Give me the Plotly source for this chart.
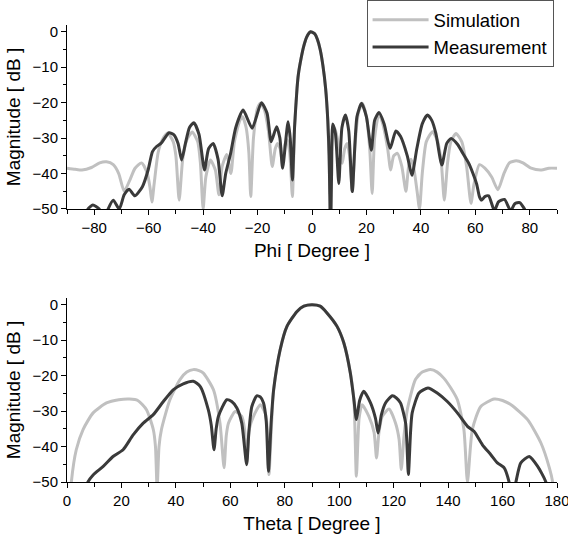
import plotly.graph_objects as go

# ---------------- Top panel: Phi cut ----------------
phi_sim = [-90, -87, -84.5, -81, -78, -75.5, -73, -71, -69, -67, -65, -62.6, -60.5, -59.5, -58.8, -58,
           -56.5, -55, -53, -51, -50, -48.8, -47.5, -46, -44, -42, -41, -40, -39, -37.3, -35.5, -34.2,
           -33, -31.3, -29.8, -28.5, -26.5, -25.5, -24.2, -23.2, -22.5, -21.5, -20, -18.9, -17.5, -16,
           -14.6, -13.5, -12.7, -11.7, -10.9, -10, -9.1, -8.2, -7.2, -6.4, -5.5, -5, -4, -3, -2, -1,
           -0.5, 0, 1, 2, 3, 4, 5, 5.8, 6.7, 7.3, 8.3, 9.3, 10.3, 11.1, 12, 12.9, 13.8, 14.8, 15.8, 17,
           18.5, 20, 21.2, 22.1, 23, 24.6, 26, 27.8, 28.9, 30, 31.4, 33, 34.5, 35.5, 36.4, 37.5, 38.6,
           39.5, 40.5, 42, 44.3, 46.2, 47.5, 48.6, 49.8, 51, 52.9, 55, 56.8, 58.4, 59.5, 61.5, 63.5, 66,
           68.3, 70.5, 72.5, 75, 77.5, 80.5, 84.3, 87, 90]
mag_sim_phi = [-38.5, -38.8, -39, -38.3, -37, -36.7, -37.5, -40, -45, -42, -38.5, -37, -40, -44, -48, -43,
               -34, -30.5, -28.6, -31, -35, -47.5, -36, -30.5, -28.3, -31, -37, -50, -41, -36.2, -39, -46,
               -38, -34.6, -40, -31, -25, -24, -27, -34, -46.5, -30, -21.5, -20.2, -22, -28,
               -38, -33, -31.5, -33, -37.1, -32, -30.5, -34, -46.5, -27, -16, -12, -7.5, -4, -1.6, -0.3,
               0, -0.1, -0.6, -2.2, -5, -9.5, -16, -25, -46, -32, -27, -30, -34, -37.1, -33, -31.5, -35, -45.1, -32, -23,
               -20.2, -24, -33, -45.6, -30, -23, -26, -33, -39, -35, -34.3, -38, -45, -38, -36, -39, -45,
               -50, -40, -31, -28.2, -31, -37, -47.5, -37, -31, -28.7, -31, -38, -48.4, -43, -37.5, -38.5, -41,
               -44.6, -40, -37, -36.4, -37, -38.5, -39, -38.5, -38.5]

phi_meas = [-90, -84, -82.3, -80.5, -78.2, -76.5, -74.9, -73, -70.8, -69, -67.2, -65.1, -62.3, -60.2, -58.6,
            -57, -55.5, -52.5, -50.8, -49.2, -47.9, -46.5, -45, -43.4, -41.5, -39.5, -38, -36.3, -34.5, -33,
            -31.7, -29.9, -28, -25.3, -22, -18.6, -16.5, -15, -13, -11.8, -10.8, -8.8, -8, -7.2, -6.4,
            -5.5, -5, -4, -3, -2, -1, -0.5, 0, 1, 2, 3, 4, 5, 5.8, 6.3, 6.8, 7.2, 7.6, 8.6, 9.85, 11, 12.3,
            13.5, 14.8, 16.5, 18.2, 20, 21.8, 23, 24.6, 26.5, 28.7, 30.8, 32.5, 35, 36.7, 38.5, 40.5, 42.4,
            44, 45.5, 47.7, 49.5, 51.1, 53.5, 55.4, 57.5, 59.1, 60.5, 61.5, 62.3, 63.5, 64.9, 67, 68.5, 70.7,
            73, 74.5, 76.3, 78.7, 80, 90]
mag_meas_phi = [-58, -58, -50, -48.9, -50, -54, -50, -47.5, -50, -46, -44.4, -46.3, -43.7, -39, -33.8,
                -32.3, -31.5, -28.5, -29, -31.5, -36.2, -31.5, -27, -25.7, -29, -39, -33, -31.5, -36, -46.3,
                -40, -34.3, -27, -22.1, -27.2, -20, -23, -31, -26.8, -30, -38.5, -25.4, -30, -41.8, -26.8,
                -16, -12, -7.5, -4, -1.6, -0.3, 0, -0.1, -0.6, -2.2, -5, -9.5, -16, -25, -35, -58, -40, -26, -28.7, -42.8, -27, -23.5,
                -28, -45.1, -24, -20.2, -24, -33.4, -25, -22.8, -26, -32.9, -28, -29.5, -35, -40.5, -33, -26, -23.5,
                -25, -28.7, -37.6, -31.5, -30.1, -31.8, -34.3, -37, -39.9, -43, -46.5, -47.5, -46.5, -46.3, -50.5, -48, -47.3,
                -50.5, -48.5, -48.2, -51, -58, -58]

# ---------------- Bottom panel: Theta cut ----------------
theta_sim = [1, 1.6, 3.4, 5.9, 9.6, 14.5, 19, 23, 26, 29.2, 31.7, 32.5, 33.1, 33.8, 34.7, 37.8, 41.5, 44,
             46.4, 48.5, 50.1, 53.8, 56.2, 57.7, 58.5, 59.3, 61.8, 64.2, 65.2, 66, 67, 68.5, 71, 73, 73.6,
             74.2, 75, 75.9, 78.3, 80.8, 84.5, 87, 90, 93, 95.5, 99.2, 101.7, 104.1, 105.4, 106.3, 107.3,
             108.4, 110.9, 112.8, 113.7, 114.6, 115.8, 118.3, 120.7, 122, 122.8, 123.8, 125, 128, 130.5,
             133.5, 136, 138.4, 141, 143.4, 145.8, 147.1, 148.9, 152, 156.9, 160, 163.1, 169.2, 174.1,
             177.2, 178.4, 179]
mag_sim_theta = [-58, -50, -40.9, -35.2, -30.5, -27.7, -26.8, -26.6, -27, -29.6, -35.2, -40, -52, -40, -35.2, -26.8, -21.1, -19,
                 -18.3, -18.6, -19.3, -24, -33.4, -46, -37, -33.4, -30.1, -31.5, -35, -44.6, -35, -31.5, -28.2, -31, -36,
                 -47.9, -36, -24, -12.7, -6.1, -1.9, -0.4, 0, -0.4, -2.3, -6.1, -10.8, -19.3, -26.8, -48.4, -32,
                 -28.2, -31.5, -36, -43.2, -36, -31.5, -29.4, -33.4, -38, -46.5, -37, -29.6, -21.1, -19,
                 -18.3, -19, -20.7, -23.5, -26.8, -35.2, -50, -35.2, -28.7, -26.6, -27, -28.2, -32.4, -39,
                 -46, -50, -56]

theta_meas = [5, 7.7, 9.6, 13.3, 16.9, 20.6, 24.3, 28, 31.7, 35.4, 39, 42.7, 46.4, 48.9, 51.9, 53, 54, 54.8,
              55.6, 58.7, 60.5, 62.4, 64.2, 66, 66.8, 67.9, 69.7, 71, 72.2, 73.2, 74, 75, 75.9, 78.3, 80.8,
              84.5, 87, 90, 93, 95.5, 99.2, 101.7, 104.1, 105.4, 106.3, 107.5, 109, 111.5, 113.3, 114.3,
              115.5, 117, 119.5, 121, 122.5, 124.4, 125.4, 126.2, 126.8, 129.3, 132.6, 136, 139.7, 143.4,
              147.1, 149.5, 152.6, 155.7, 158.1, 160.6, 162.4, 163.5, 164.9, 166.7, 169.8, 172.9, 175.9, 177]
mag_meas_theta = [-58, -50, -48, -45.6, -42.8, -40.9, -36.7, -33.4, -31, -27.3, -24, -22.3, -21.6, -23, -29.6, -34, -40.9, -35,
                  -31.5, -26.8, -27.3, -29.1, -33.4, -45.1, -36, -28.7, -25.7, -26, -27.7, -33, -47, -33, -24, -12.7, -6.1,
                  -1.9, -0.4, 0, -0.4, -2.3, -6.1, -10.8, -19.3, -26.8, -32.4, -27, -24.4, -27.7, -32, -36.2,
                  -31, -27.7, -25.7, -26.3, -27.7, -33.4, -47.9, -36, -30.5, -24.9, -23.5, -24.9, -27.3, -30.5,
                  -34.3, -35.7, -39.5, -42.3, -44.6, -46, -50, -55, -50, -44.6, -42.8, -45.6, -50, -56]

x_title_top = "Phi [ Degree ]"
x_title_bot = "Theta [ Degree ]"
y_title = "Magnitude [ dB ]"
sim_name = "Simulation"
meas_name = "Measurement"

SIM_COLOR = "#c0c0c0"
MEAS_COLOR = "#3a3a3a"
FONT = "Liberation Sans"

fig = go.Figure()
line_kw = dict(shape="spline", smoothing=0.6, width=3)
fig.add_trace(go.Scatter(x=phi_sim, y=mag_sim_phi, mode="lines", name=sim_name,
                         line=dict(color=SIM_COLOR, **line_kw), xaxis="x", yaxis="y"))
fig.add_trace(go.Scatter(x=phi_meas, y=mag_meas_phi, mode="lines", name=meas_name,
                         line=dict(color=MEAS_COLOR, **line_kw), xaxis="x", yaxis="y"))
fig.add_trace(go.Scatter(x=theta_sim, y=mag_sim_theta, mode="lines", name=sim_name, showlegend=False,
                         line=dict(color=SIM_COLOR, **line_kw), xaxis="x2", yaxis="y2"))
fig.add_trace(go.Scatter(x=theta_meas, y=mag_meas_theta, mode="lines", name=meas_name, showlegend=False,
                         line=dict(color=MEAS_COLOR, **line_kw), xaxis="x2", yaxis="y2"))

tickfont = dict(family=FONT, size=15, color="black")
titlefont = dict(family=FONT, size=19, color="black")

def xax(rng, title, anchor):
    return dict(range=rng, dtick=20, tick0=0, ticks="outside", ticklen=5, tickwidth=1,
                tickcolor="black", showline=True, linecolor="black", linewidth=1,
                showgrid=False, zeroline=False, mirror=False, anchor=anchor, automargin=False,
                ticklabeloverflow="allow",
                tickfont=tickfont, title=dict(text=title, font=titlefont, standoff=8),
                minor=dict(dtick=10, ticks="outside", ticklen=4, tickcolor="black", tickwidth=1))

def yax(domain, anchor):
    return dict(range=[-50, 1.9], domain=domain, dtick=10, tick0=0, ticks="outside", ticklen=5,
                tickwidth=1, tickcolor="black", showline=True, linecolor="black", linewidth=1,
                showgrid=False, zeroline=False, anchor=anchor, tickfont=tickfont, automargin=False,
                title=dict(text=y_title, font=titlefont, standoff=6),
                minor=dict(dtick=5, ticks="outside", ticklen=3, tickcolor="black", tickwidth=1))

fig.update_layout(
    width=568, height=537,
    margin=dict(l=67, r=11, t=25, b=55, autoexpand=False),
    paper_bgcolor="white", plot_bgcolor="white",
    xaxis=xax([-90, 90], x_title_top, "y"),
    yaxis=yax([0.5974, 1.0], "x"),
    xaxis2=xax([0, 180], x_title_bot, "y2"),
    yaxis2=yax([0.0, 0.4026], "x2"),
    showlegend=True,
    legend=dict(x=0.993, y=1.054, xanchor="right", yanchor="top",
                bgcolor="white", bordercolor="#555555", borderwidth=1,
                font=dict(family=FONT, size=18.5, color="black"),
                itemwidth=56, tracegroupgap=0),
)

fig.write_html("out.html", config={"displayModeBar": False},
               post_script="document.body.style.margin='0';document.body.style.overflow='hidden';")
